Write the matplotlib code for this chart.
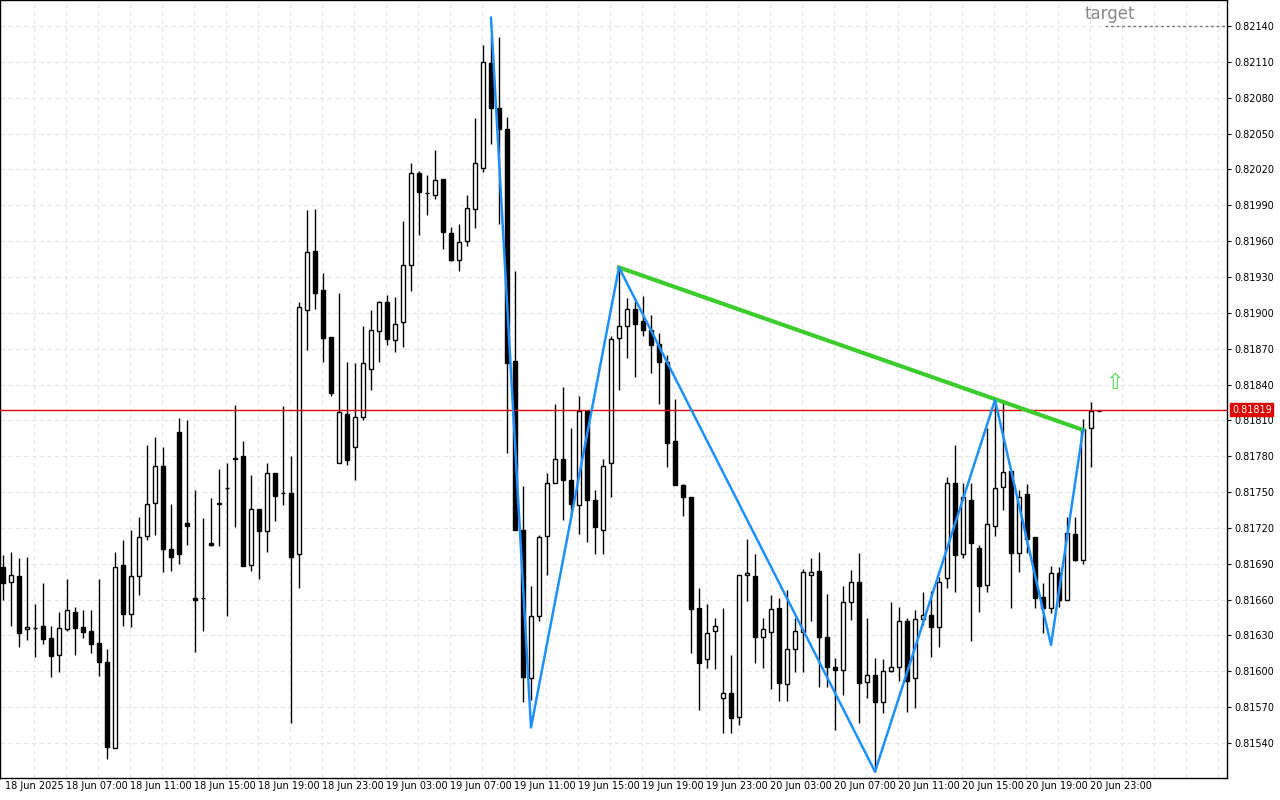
import matplotlib
matplotlib.use("Agg")
import matplotlib.pyplot as plt
import numpy as np

# prices stored as points (0.00001) above 0.81000, 30-minute candles
BASE = 0.81
PT = 0.00001

open_pts = [687, 675, 680, 635, 636, 638, 628, 614, 635, 650, 637, 634, 624, 608, 536, 689, 648, 680, 713, 741,
            772, 702, 800, 724, 661, 661, 707, 741, 753, 778, 780, 689, 736, 717, 766, 749, 749, 698, 902, 952,
            919, 880, 774, 815, 788, 813, 853, 885, 909, 877, 892, 940, 1017, 1000, 999, 1012, 967, 944, 960, 987,
            1021, 1109, 1071, 1054, 860, 718, 594, 646, 713, 758, 778, 760, 739, 818, 743, 718, 774, 879, 889, 903,
            893, 886, 874, 859, 793, 756, 746, 653, 610, 634, 578, 582, 562, 681, 680, 629, 633, 653, 589, 619,
            633, 681, 684, 629, 604, 601, 658, 675, 591, 597, 574, 600, 604, 642, 594, 644, 647, 637, 678, 758,
            698, 743, 703, 672, 722, 754, 768, 699, 748, 712, 662, 653, 682, 660, 715, 693, 804, 818]
high_pts = [697, 700, 695, 696, 656, 674, 638, 650, 677, 654, 651, 651, 677, 619, 700, 710, 718, 729, 789, 796,
            788, 740, 812, 810, 752, 728, 745, 769, 774, 823, 793, 764, 736, 774, 766, 822, 780, 909, 986, 987,
            933, 880, 917, 859, 858, 889, 902, 910, 915, 913, 977, 1025, 1019, 1015, 1036, 1012, 972, 974, 999, 1063,
            1124, 1132, 1131, 1064, 935, 755, 671, 714, 766, 824, 838, 804, 830, 818, 752, 778, 881, 937, 912, 912,
            914, 898, 883, 865, 828, 757, 746, 670, 656, 645, 653, 614, 681, 711, 698, 645, 664, 661, 668, 645,
            686, 695, 700, 665, 611, 671, 685, 699, 645, 611, 610, 658, 654, 645, 651, 666, 667, 679, 763, 789,
            758, 758, 706, 804, 828, 825, 768, 752, 757, 712, 674, 688, 687, 729, 729, 811, 825, 818]
low_pts = [660, 638, 620, 626, 612, 623, 595, 599, 634, 614, 628, 615, 596, 527, 536, 638, 637, 664, 710, 714,
           683, 684, 690, 706, 616, 634, 705, 705, 646, 721, 688, 684, 677, 700, 726, 739, 557, 670, 869, 903,
           859, 830, 774, 773, 760, 810, 835, 859, 873, 867, 871, 918, 965, 982, 995, 953, 943, 935, 956, 971,
           1018, 1041, 974, 783, 718, 574, 576, 642, 681, 758, 727, 729, 715, 708, 698, 698, 746, 835, 862, 846,
           881, 850, 824, 771, 756, 730, 615, 568, 603, 602, 548, 548, 555, 659, 607, 603, 585, 575, 575, 599,
           599, 642, 587, 587, 551, 580, 643, 557, 578, 516, 565, 599, 592, 566, 569, 639, 612, 620, 670, 666,
           695, 625, 650, 666, 713, 735, 653, 683, 699, 653, 632, 649, 654, 660, 692, 690, 771, 818]
close_pts = [674, 681, 632, 637, 636, 627, 613, 636, 651, 636, 633, 623, 608, 537, 687, 648, 680, 712, 740, 772,
             702, 696, 698, 722, 660, 661, 706, 740, 753, 778, 688, 736, 717, 766, 747, 749, 696, 905, 951, 917,
             879, 833, 817, 777, 813, 858, 886, 909, 878, 891, 940, 1017, 1001, 1000, 1011, 968, 944, 959, 988, 1025,
             1110, 1071, 1054, 858, 718, 595, 646, 712, 758, 778, 760, 740, 818, 743, 721, 772, 878, 889, 903, 891,
             886, 873, 859, 791, 756, 746, 652, 607, 632, 638, 582, 561, 681, 682, 629, 635, 652, 590, 619, 634,
             683, 683, 629, 604, 601, 658, 675, 590, 597, 574, 600, 604, 642, 592, 644, 647, 637, 675, 758, 697,
             746, 707, 671, 723, 753, 767, 699, 746, 711, 661, 653, 682, 660, 716, 693, 803, 818, 818]

zigzag_idx = [61, 66, 77, 109, 124, 131, 135]
zigzag_pts = [1147, 553, 938, 516, 827, 622, 802]
trend_idx = [77, 135]
trend_pts = [938, 802]
current_price = 0.81819
target_price = 0.82140
arrow_price = 0.81841

time_labels = ["18 Jun 2025", "18 Jun 07:00", "18 Jun 11:00", "18 Jun 15:00", "18 Jun 19:00", "18 Jun 23:00",
               "19 Jun 03:00", "19 Jun 07:00", "19 Jun 11:00", "19 Jun 15:00", "19 Jun 19:00", "19 Jun 23:00",
               "20 Jun 03:00", "20 Jun 07:00", "20 Jun 11:00", "20 Jun 15:00", "20 Jun 19:00", "20 Jun 23:00"]
time_label_idx = [0.25] + [7.875 + 8 * k for k in range(17)]
price_ticks = [0.81540 + 0.0003 * k for k in range(21)]

o = BASE + np.array(open_pts) * PT
h = BASE + np.array(high_pts) * PT
l = BASE + np.array(low_pts) * PT
c = BASE + np.array(close_pts) * PT
x = np.arange(len(o))

fig = plt.figure(figsize=(12.8, 8.0), dpi=100)
ax = fig.add_axes([0.0, 0.0275, 1227 / 1280, 0.9725])

for xv in np.arange(3.875, 153, 4):
    ax.axvline(xv, color="#e6e6e6", lw=0.8, ls=(0, (4, 3)), zorder=0)
for yv in price_ticks:
    ax.axhline(yv, color="#e6e6e6", lw=0.8, ls=(0, (4, 3)), zorder=0)

w = 0.55
for i in x:
    ax.vlines(i, l[i], h[i], color="black", lw=1, zorder=2)
    bottom = min(o[i], c[i])
    height = max(abs(c[i] - o[i]), 0.0000015)
    face = "white" if c[i] >= o[i] else "black"
    ax.add_patch(plt.Rectangle((i - w / 2, bottom), w, height, facecolor=face,
                               edgecolor="black", lw=1, zorder=3))

ax.axhline(current_price, color="#e00000", lw=1, zorder=4)
ax.plot(trend_idx, BASE + np.array(trend_pts) * PT, color="#3ccc2e", lw=3, zorder=5)
ax.plot(zigzag_idx, BASE + np.array(zigzag_pts) * PT, color="#1e90ff", lw=1.8, zorder=6)

ax.plot([137.8, 153], [target_price, target_price], color="#777777", lw=1, ls=(0, (2, 2)), zorder=4)
ax.text(138.4, target_price + 0.00010, "target", color="#888888", fontsize=12, ha="center", va="center")
ax.text(138.9, arrow_price, "\u21e7", color="#5ad85a", fontsize=16, ha="center", va="center")

ax.set_xlim(-0.375, 153)
ax.set_ylim(0.815107, 0.821618)
ax.yaxis.tick_right()
ax.set_yticks(price_ticks)
ax.set_yticklabels([f"{p:.5f}" for p in price_ticks], fontsize=7)
ax.set_xticks(time_label_idx)
ax.set_xticklabels(time_labels, fontsize=7, ha="left")
ax.tick_params(axis="both", length=3, width=0.8, pad=2)
ax.tick_params(axis="x", length=0)
for s in ax.spines.values():
    s.set_linewidth(1)

ax.text(1.004, (current_price - 0.815107) / (0.821618 - 0.815107), f"{current_price:.5f}",
        transform=ax.transAxes, fontsize=7, color="white", va="center", ha="left",
        bbox=dict(boxstyle="square,pad=0.15", fc="#e00000", ec="#e00000"))

fig.savefig("out.png", dpi=100)
